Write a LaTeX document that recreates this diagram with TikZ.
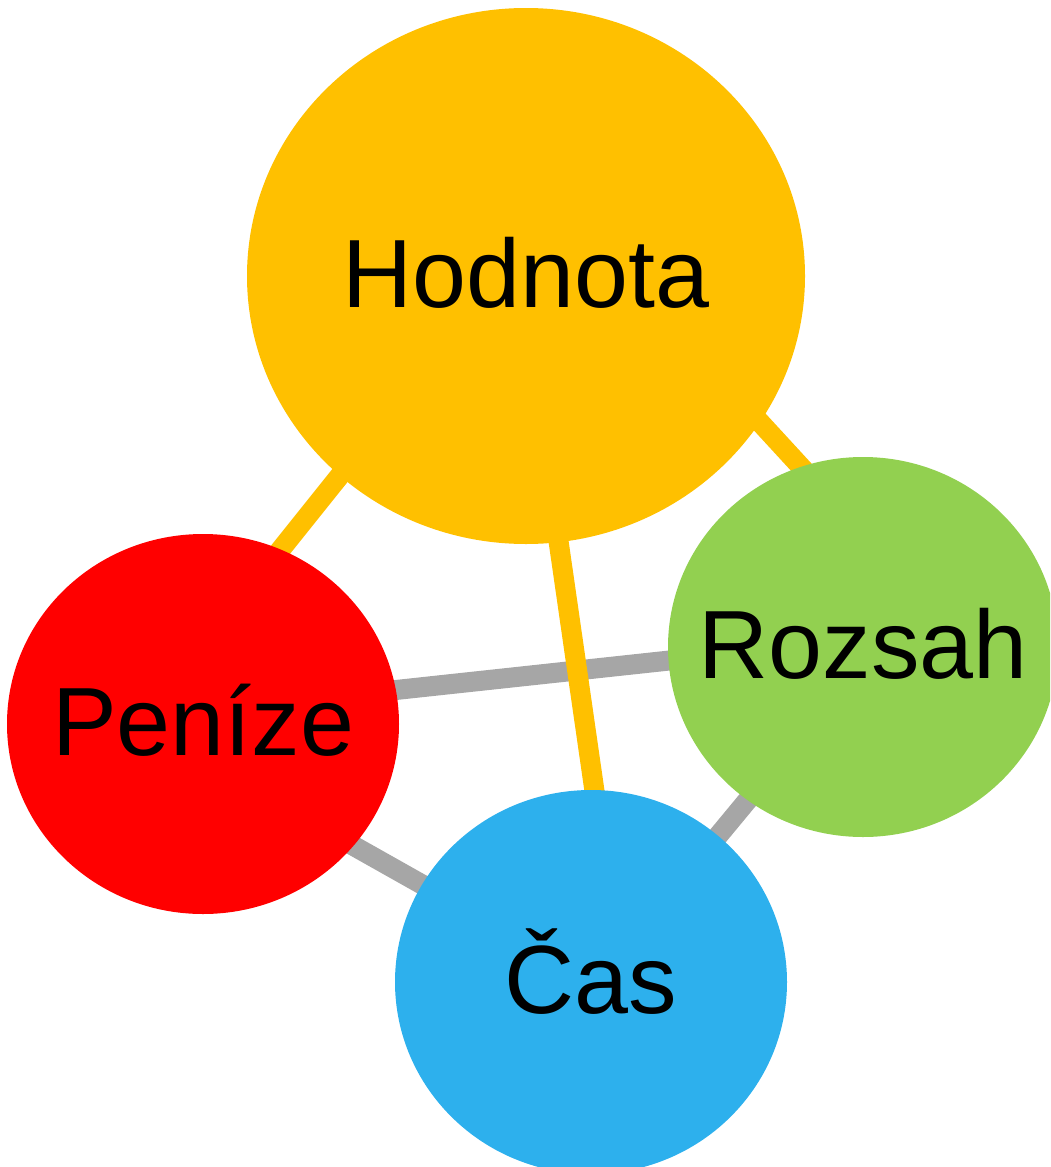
\documentclass[tikz,border=0pt]{standalone}
\usepackage{fontspec}
\setmainfont{Liberation Sans}
\usetikzlibrary{shapes.geometric,backgrounds}
\definecolor{hodcol}{HTML}{FFC000}
\definecolor{pencol}{HTML}{FF0000}
\definecolor{rozcol}{HTML}{92D050}
\definecolor{cascol}{HTML}{2DB0ED}
\definecolor{linkgray}{HTML}{A6A6A6}

\begin{document}
\begin{tikzpicture}[x=0.5pt,y=-0.5pt,
  bubble/.style={ellipse,inner sep=0pt,outer sep=0pt,
    font=\fontsize{48.5}{58}\selectfont,text height=35pt,text depth=4pt},
  goldlink/.style={draw=hodcol,line width=10pt,shorten <=-5pt,shorten >=-5pt},
  greylink/.style={draw=linkgray,line width=10pt,shorten <=-5pt,shorten >=-5pt}]
\path[use as bounding box,clip] (0,0) rectangle (1050,1167);

\node[bubble,fill=hodcol,minimum width=279pt,minimum height=268pt] (hod) at (526,276) {\makebox[0pt]{Hodnota}};
\node[bubble,fill=pencol,minimum width=196pt,minimum height=190pt] (pen) at (203,724) {\makebox[0pt]{Peníze}};
\node[bubble,fill=rozcol,minimum width=195pt,minimum height=190pt] (roz) at (863,647) {\makebox[0pt]{Rozsah}};
\node[bubble,fill=cascol,minimum width=196pt,minimum height=192pt] (cas) at (591,982) {\makebox[0pt]{Čas}};

% spojnice
\begin{pgfonlayer}{background}
\draw[greylink] (pen.10.6) -- (roz.184.3);
\draw[greylink] (pen.321.7) -- (cas.150.8);
\draw[greylink] (roz.233.7) -- (cas.49.5);
\draw[goldlink] (hod.227.6) -- (pen.66.5);
\draw[goldlink] (hod.328) -- (roz.109.6);
\draw[goldlink] (hod.277.9) -- (cas.89.8);
\end{pgfonlayer}
\end{tikzpicture}
\end{document}
